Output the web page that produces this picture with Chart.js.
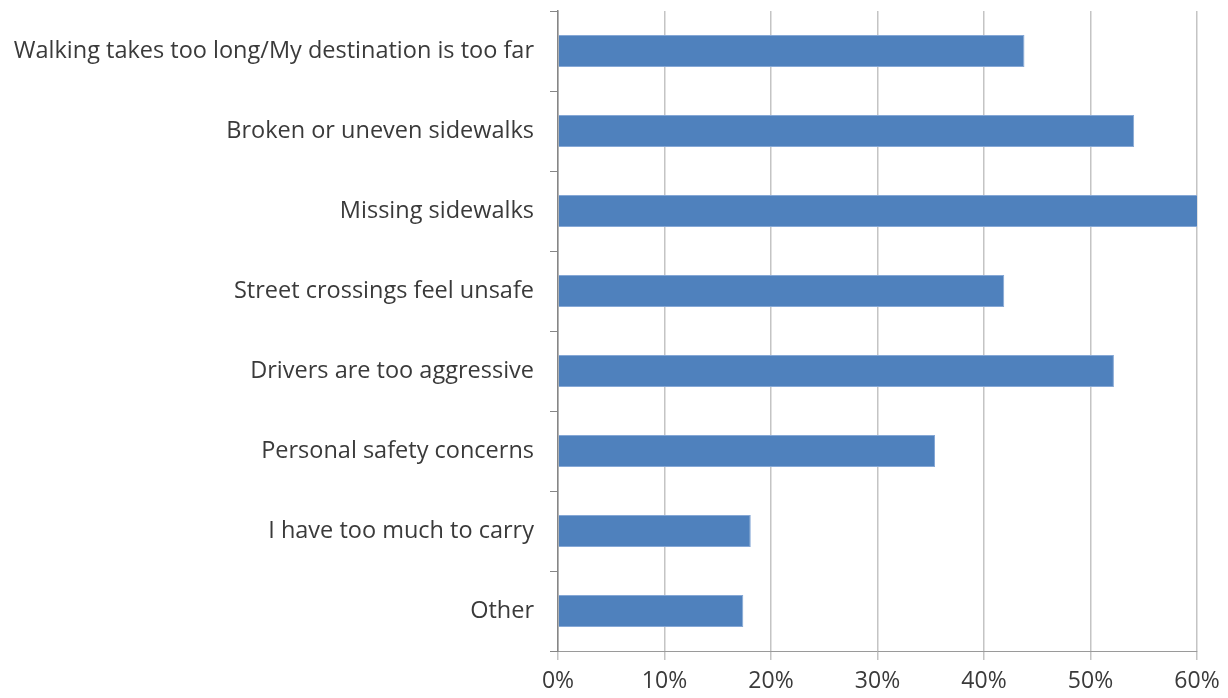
<!DOCTYPE html>
<html>
<head>
<meta charset="utf-8">
<script src="https://cdn.jsdelivr.net/npm/chart.js@4/dist/chart.umd.min.js"></script>
<style>
  html, body { margin: 0; padding: 0; background: #fff; }
  #wrap { width: 1228px; height: 698px; position: relative; }
</style>
</head>
<body>
<div id="wrap"><canvas id="barriersChart"></canvas></div>
<script>
// Reasons for not walking more - share of respondents
const reasons = [
    'Walking takes too long/My destination is too far',
    'Broken or uneven sidewalks',
    'Missing sidewalks',
    'Street crossings feel unsafe',
    'Drivers are too aggressive',
    'Personal safety concerns',
    'I have too much to carry',
    'Other'
];
const shares = [43.8, 54.1, 60.2, 41.9, 52.2, 35.4, 18.1, 17.4];
const xTicks = [0, 10, 20, 30, 40, 50, 60];

const FONT = '"Open Sans", Lato, sans-serif';
const TEXT = '#3A3A3A';

new Chart(document.getElementById('barriersChart'), {
    type: 'bar',
    data: {
        labels: reasons,
        datasets: [{
            data: shares,
            backgroundColor: '#4F81BD',
            borderColor: '#86A8D6',
            borderWidth: 1,
            borderSkipped: 'start',
            barPercentage: 0.4,
            categoryPercentage: 1.0
        }]
    },
    options: {
        indexAxis: 'y',
        responsive: true,
        maintainAspectRatio: false,
        animation: false,
        layout: { padding: { top: 11, right: 31, bottom: 0, left: 0 } },
        plugins: {
            legend: { display: false },
            tooltip: { enabled: false }
        },
        scales: {
            x: {
                min: 0,
                max: 60,
                afterBuildTicks: s => { s.ticks = xTicks.map(v => ({ value: v })); },
                afterFit: s => { s.height = 47; },
                grid: {
                    color: '#C4C4C4',
                    lineWidth: 1.5,
                    tickLength: 9,
                    tickColor: '#C4C4C4'
                },
                border: { color: '#9A9A9A', width: 1 },
                ticks: {
                    callback: v => v + '%',
                    color: TEXT,
                    font: { family: FONT, size: 23 },
                    padding: 8,
                    maxRotation: 0
                }
            },
            y: {
                afterFit: s => {
                    s.width = 558;
                    // keep the plot flush with the top padding
                    s.paddingTop = 0;
                    s.paddingBottom = 0;
                },
                grid: {
                    drawOnChartArea: false,
                    tickLength: 8,
                    tickColor: '#868686'
                },
                border: { color: '#868686', width: 1.5 },
                ticks: {
                    color: TEXT,
                    font: { family: FONT, size: 23.5 },
                    padding: 16
                }
            }
        }
    }
});
</script>
</body>
</html>
